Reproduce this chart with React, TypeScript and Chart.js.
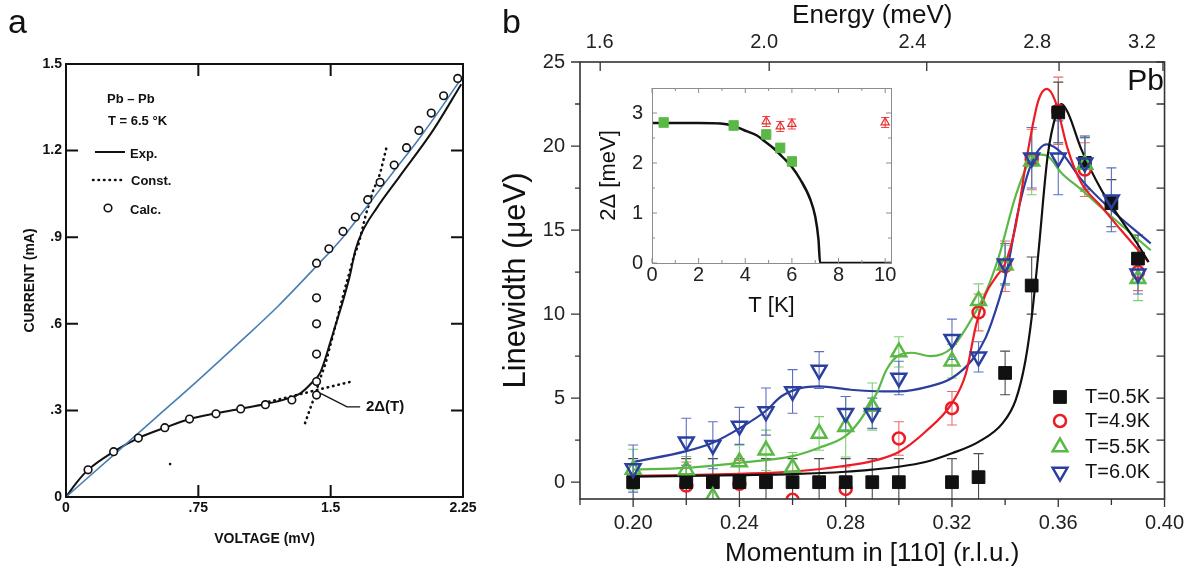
import React, { useEffect, useRef } from 'react';
import { Chart, registerables } from 'chart.js';

Chart.register(...registerables);

const FONT = '"Liberation Sans", Arial, Helvetica, sans-serif';
Chart.defaults.font.family = FONT;

// ================= Panel a data =================
const aXTicks = [0, 0.75, 1.5, 2.25];
const aXTickLabels = ['0', '.75', '1.5', '2.25'];
const aYTicks = [0, 0.3, 0.6, 0.9, 1.2, 1.5];
const aYTickLabels = ['0', '.3', '.6', '.9', '1.2', '1.5'];

const aExpV = [0, 0.06, 0.125, 0.27, 0.41, 0.56, 0.70, 0.85, 0.99, 1.13, 1.25, 1.33, 1.40, 1.44, 1.47, 1.49, 1.53, 1.57, 1.61, 1.64, 1.68, 1.76, 1.89, 2.08, 2.24];
const aExpI = [0, 0.05, 0.094, 0.157, 0.204, 0.24, 0.27, 0.29, 0.306, 0.322, 0.34, 0.36, 0.40, 0.43, 0.48, 0.52, 0.60, 0.68, 0.77, 0.855, 0.92, 1.0, 1.11, 1.27, 1.43];

const aConstFlatV = [1.15, 1.30, 1.45, 1.62];
const aConstFlatI = [0.33, 0.352, 0.375, 0.40];
const aConstSteepV = [1.355, 1.38, 1.41, 1.44, 1.47, 1.53, 1.58, 1.63, 1.66, 1.70, 1.74, 1.78, 1.82];
const aConstSteepI = [0.256, 0.30, 0.35, 0.41, 0.46, 0.60, 0.72, 0.83, 0.88, 0.98, 1.06, 1.12, 1.22];

const aCalcV = [0.125, 0.27, 0.41, 0.56, 0.70, 0.85, 0.99, 1.13, 1.28, 1.42, 1.42, 1.42, 1.42, 1.42, 1.42, 1.49, 1.57, 1.64, 1.71, 1.78, 1.86, 1.93, 2.0, 2.07, 2.14, 2.22];
const aCalcI = [0.094, 0.157, 0.204, 0.24, 0.27, 0.288, 0.305, 0.32, 0.336, 0.353, 0.40, 0.495, 0.60, 0.69, 0.81, 0.86, 0.92, 0.97, 1.03, 1.09, 1.15, 1.21, 1.27, 1.33, 1.39, 1.45];

const aBlueV = [0, 0.25, 0.5, 0.75, 1.0, 1.2, 1.42, 1.57, 1.71, 1.86, 2.0, 2.14, 2.24];
const aBlueI = [0, 0.135, 0.27, 0.405, 0.545, 0.66, 0.80, 0.90, 1.01, 1.13, 1.24, 1.36, 1.45];

const aLeaderV = [1.44, 1.593, 1.667];
const aLeaderI = [0.36, 0.312, 0.312];
const aGapLabel = '2\u0394(T)';
const aGapLabelAt = [1.70, 0.312];

const aSpeckV = [0.59];
const aSpeckI = [0.114];

// ================= Panel b data =================
const bXTicks = [0.18, 0.20, 0.22, 0.24, 0.26, 0.28, 0.30, 0.32, 0.34, 0.36, 0.38, 0.40];
const bYTicks = [0, 2.5, 5, 7.5, 10, 12.5, 15, 17.5, 20, 22.5, 25];
const bEnergyLabels = ['1.6', '2.0', '2.4', '2.8', '3.2'];
const bEnergyLabelQ = [0.1874, 0.2493, 0.3051, 0.3521, 0.3915];
const bEnergyTickQ = [0.1876, 0.2512, 0.3105, 0.3603, 0.3994];

const bSeriesNames = ['T=0.5K', 'T=4.9K', 'T=5.5K', 'T=6.0K'];

const bBlackQ = [0.20, 0.22, 0.23, 0.24, 0.25, 0.26, 0.27, 0.28, 0.29, 0.30, 0.32, 0.33, 0.34, 0.35, 0.36, 0.37, 0.38, 0.39];
const bBlackW = [0, 0, 0, 0, 0, 0, 0, 0, 0, 0, 0, 0.3, 6.5, 11.7, 22.0, 19.0, 16.6, 13.3];
const bBlackE = [1.4, 1.4, 1.4, 1.4, 1.4, 1.4, 1.4, 1.4, 1.4, 1.4, 1.4, 1.4, 1.3, 1.7, 1.8, 1.6, 1.4, 1.4];

const bRedQ = [0.22, 0.24, 0.26, 0.28, 0.30, 0.32, 0.33, 0.34, 0.35, 0.36, 0.37, 0.39];
const bRedW = [-0.2, -0.1, -1.05, -0.4, 2.6, 4.4, 10.1, 12.85, 19.2, 22.1, 18.6, 12.5];
const bRedE = [1.4, 1.4, 1.5, 1.3, 1.0, 1.0, 1.1, 1.5, 1.8, 2.0, 1.6, 1.1];

const bGreenQ = [0.20, 0.22, 0.23, 0.24, 0.25, 0.26, 0.27, 0.28, 0.29, 0.30, 0.32, 0.33, 0.34, 0.35, 0.37, 0.39];
const bGreenW = [0.76, 0.73, -0.87, 1.2, 1.9, 0.87, 2.9, 3.3, 4.5, 7.75, 7.2, 10.8, 12.9, 19.1, 18.9, 12.1];
const bGreenE = [1.2, 0.8, 1.0, 1.0, 1.2, 0.9, 1.0, 1.8, 1.4, 0.9, 1.0, 1.0, 1.2, 2.0, 1.6, 1.3];

const bBlueQ = [0.20, 0.22, 0.23, 0.24, 0.25, 0.26, 0.27, 0.28, 0.29, 0.30, 0.32, 0.33, 0.34, 0.35, 0.36, 0.37, 0.38, 0.39];
const bBlueW = [0.81, 2.4, 2.2, 3.35, 4.2, 5.4, 6.67, 4.1, 4.1, 6.2, 8.5, 7.46, 13.0, 19.3, 19.3, 19.0, 16.8, 12.4];
const bBlueE = [1.4, 1.4, 1.4, 1.1, 1.4, 1.3, 1.1, 1.0, 0.9, 1.0, 1.2, 0.9, 1.2, 1.8, 2.2, 1.5, 1.9, 1.2];

const bCurveBlackQ = [0.20, 0.22, 0.24, 0.26, 0.28, 0.29, 0.30, 0.31, 0.32, 0.33, 0.339, 0.344, 0.3476, 0.350, 0.3525, 0.356, 0.3594, 0.3612, 0.3636, 0.3687, 0.3762, 0.3811, 0.3897, 0.394];
const bCurveBlackW = [0.33, 0.37, 0.42, 0.48, 0.62, 0.75, 0.92, 1.2, 1.72, 2.4, 3.5, 4.9, 7.2, 9.8, 13.6, 19.4, 22.0, 22.5, 22.0, 19.8, 17.4, 16.2, 14.2, 13.1];
const bCurveRedQ = [0.20, 0.22, 0.24, 0.26, 0.28, 0.29, 0.30, 0.31, 0.32, 0.3253, 0.329, 0.3327, 0.337, 0.340, 0.3439, 0.3487, 0.3525, 0.3557, 0.3588, 0.3636, 0.3687, 0.3762, 0.3836, 0.394];
const bCurveRedW = [0.37, 0.42, 0.5, 0.63, 0.98, 1.25, 1.8, 3.0, 4.7, 6.5, 9.3, 11.2, 12.3, 13.0, 15.2, 19.8, 22.7, 23.4, 22.7, 19.8, 17.8, 16.4, 15.0, 13.1];
const bCurveGreenQ = [0.20, 0.22, 0.24, 0.26, 0.27, 0.28, 0.2855, 0.2917, 0.2954, 0.30, 0.305, 0.312, 0.32, 0.3277, 0.3327, 0.3376, 0.3439, 0.3489, 0.3525, 0.356, 0.3612, 0.3687, 0.3786, 0.3948];
const bCurveGreenW = [0.75, 0.85, 1.15, 1.55, 2.05, 2.75, 3.7, 5.3, 6.7, 7.55, 7.7, 7.5, 8.0, 9.8, 11.3, 13.4, 17.0, 19.0, 19.5, 19.4, 18.4, 17.4, 16.0, 13.8];
const bCurveBlueQ = [0.20, 0.22, 0.23, 0.24, 0.25, 0.2557, 0.263, 0.27, 0.2818, 0.294, 0.30, 0.3115, 0.32, 0.3277, 0.3327, 0.3376, 0.3407, 0.345, 0.350, 0.3557, 0.3612, 0.3687, 0.3786, 0.3948];
const bCurveBlueW = [1.2, 1.85, 2.35, 3.2, 4.25, 5.1, 5.6, 5.7, 5.5, 5.4, 5.4, 5.7, 6.2, 7.3, 8.6, 10.8, 12.6, 16.2, 19.0, 20.1, 19.6, 18.0, 16.4, 14.2];

// ================= Inset data =================
const iXTicks = [0, 2, 4, 6, 8, 10];
const iXMinor = [1, 3, 5, 7, 9];
const iYTicks = [0, 1, 2, 3];
const iYMinor = [0.5, 1.5, 2.5];
const iCurveT = [0, 1, 2, 2.93, 3.5, 3.93, 4.5, 4.79, 5.2, 5.64, 6.0, 6.36, 6.79, 7.0, 7.14, 7.21, 8, 9, 10.25];
const iCurveGap = [2.8, 2.8, 2.8, 2.79, 2.74, 2.66, 2.55, 2.45, 2.3, 2.1, 1.92, 1.67, 1.27, 0.93, 0.47, 0, 0, 0, 0];
const iGreenT = [0.5, 3.5, 4.9, 5.5, 6.0];
const iGreenGap = [2.81, 2.75, 2.57, 2.30, 2.03];
const iGreenE = [0.1, 0.1, 0.1, 0.1, 0.1];
const iRedT = [4.9, 5.5, 6.0, 10.0];
const iRedGap = [2.83, 2.73, 2.78, 2.81];
const iRedE = [0.1, 0.1, 0.1, 0.1];

// ================= helpers =================
const zip = (xs: number[], ys: number[]) => xs.map((x, i) => ({ x, y: ys[i] }));

const C_BLACK = '#111111';
const C_RED = '#ed1c24';
const C_GREEN = '#5ab946';
const C_BLUE = '#2b3f9e';

function drawMarker(ctx: CanvasRenderingContext2D, style: string, x: number, y: number, r: number, color: string, fill: boolean, lw: number) {
  ctx.save();
  ctx.beginPath();
  if (style === 'rect') {
    const s = r * Math.SQRT1_2;
    ctx.rect(x - s, y - s, 2 * s, 2 * s);
  } else if (style === 'circle') {
    ctx.arc(x, y, r, 0, Math.PI * 2);
  } else {
    const dir = style === 'triangle' ? 1 : -1;
    const sx = r * Math.sin((2 * Math.PI) / 3);
    ctx.moveTo(x, y - dir * r);
    ctx.lineTo(x + sx, y + dir * r * 0.5);
    ctx.lineTo(x - sx, y + dir * r * 0.5);
    ctx.closePath();
  }
  if (fill) {
    ctx.fillStyle = color;
    ctx.fill();
  }
  ctx.strokeStyle = color;
  ctx.lineWidth = lw;
  ctx.stroke();
  ctx.restore();
}

function drawErrorBars(chart: any, groups: { xs: number[]; ys: number[]; es: number[]; color: string; cap: number }[]) {
  const { ctx, chartArea: a, scales } = chart;
  const x = scales.x;
  const y = scales.y;
  ctx.save();
  ctx.beginPath();
  ctx.rect(a.left, a.top, a.right - a.left, a.bottom - a.top);
  ctx.clip();
  for (const g of groups) {
    ctx.strokeStyle = g.color;
    ctx.lineWidth = 1.1;
    ctx.beginPath();
    g.xs.forEach((q, i) => {
      const px = x.getPixelForValue(q);
      const y1 = y.getPixelForValue(g.ys[i] + g.es[i]);
      const y2 = y.getPixelForValue(g.ys[i] - g.es[i]);
      ctx.moveTo(px, y1);
      ctx.lineTo(px, y2);
      ctx.moveTo(px - g.cap, y1);
      ctx.lineTo(px + g.cap, y1);
      ctx.moveTo(px - g.cap, y2);
      ctx.lineTo(px + g.cap, y2);
    });
    ctx.stroke();
  }
  ctx.restore();
}

// ================= Panel a config =================
const frameA = {
  id: 'frameA',
  afterDraw(chart: any) {
    const { ctx, chartArea: a, scales } = chart;
    const x = scales.x;
    const y = scales.y;
    ctx.save();
    ctx.strokeStyle = '#111';
    ctx.lineWidth = 2;
    ctx.strokeRect(a.left, a.top, a.right - a.left, a.bottom - a.top);
    ctx.beginPath();
    aXTicks.slice(1, -1).forEach((v) => {
      const p = x.getPixelForValue(v);
      ctx.moveTo(p, a.top);
      ctx.lineTo(p, a.top + 12);
      ctx.moveTo(p, a.bottom);
      ctx.lineTo(p, a.bottom - 12);
    });
    aYTicks.slice(1, -1).forEach((v) => {
      const p = y.getPixelForValue(v);
      ctx.moveTo(a.left, p);
      ctx.lineTo(a.left + 12, p);
      ctx.moveTo(a.right, p);
      ctx.lineTo(a.right - 12, p);
    });
    ctx.stroke();

    // legend
    ctx.fillStyle = '#111';
    ctx.font = `bold 13px ${FONT}`;
    ctx.textBaseline = 'middle';
    ctx.textAlign = 'left';
    ctx.fillText('Pb \u2013 Pb', 107, 99);
    ctx.fillText('T = 6.5 \u00b0K', 108, 121);
    ctx.fillText('Exp.', 130, 154);
    ctx.fillText('Const.', 131, 181);
    ctx.fillText('Calc.', 130, 210);
    ctx.lineWidth = 2;
    ctx.beginPath();
    ctx.moveTo(95, 152);
    ctx.lineTo(125, 152);
    ctx.stroke();
    ctx.save();
    ctx.lineWidth = 2.6;
    ctx.lineCap = 'round';
    ctx.setLineDash([0.5, 5]);
    ctx.beginPath();
    ctx.moveTo(93, 180);
    ctx.lineTo(126, 180);
    ctx.stroke();
    ctx.restore();
    ctx.lineWidth = 1.6;
    ctx.beginPath();
    ctx.arc(108, 208, 3.8, 0, Math.PI * 2);
    ctx.stroke();

    // 2Δ(T) annotation
    ctx.font = `bold 15px ${FONT}`;
    ctx.fillText(aGapLabel, x.getPixelForValue(aGapLabelAt[0]), y.getPixelForValue(aGapLabelAt[1]));

    // panel letter
    ctx.font = `34px ${FONT}`;
    ctx.textBaseline = 'alphabetic';
    ctx.fillText('a', 8, 33);
    ctx.restore();
  },
};

const configA = () => ({
  type: 'line',
  data: {
    datasets: [
      { label: 'Calc.', data: zip(aCalcV, aCalcI), showLine: false, pointRadius: 3.8, pointBorderWidth: 1.6, pointBorderColor: '#111', pointBackgroundColor: '#fff', order: 1 },
      { label: 'Exp.', data: zip(aExpV, aExpI), borderColor: '#111', borderWidth: 2, pointRadius: 0, cubicInterpolationMode: 'monotone', order: 3 },
      { label: 'Const. a', data: zip(aConstFlatV, aConstFlatI), borderColor: '#111', borderWidth: 2.6, borderDash: [0.5, 5], borderCapStyle: 'round', pointRadius: 0, tension: 0, order: 4 },
      { label: 'Const. b', data: zip(aConstSteepV, aConstSteepI), borderColor: '#111', borderWidth: 2.6, borderDash: [0.5, 5], borderCapStyle: 'round', pointRadius: 0, tension: 0, order: 4 },
      { label: 'Blue', data: zip(aBlueV, aBlueI), borderColor: '#4a7db2', borderWidth: 1.6, pointRadius: 0, cubicInterpolationMode: 'monotone', order: 2 },
      { label: 'Leader', data: zip(aLeaderV, aLeaderI), borderColor: '#111', borderWidth: 1.3, pointRadius: 0, tension: 0, order: 5 },
      { label: 'Speck', data: zip(aSpeckV, aSpeckI), showLine: false, pointRadius: 1.3, pointBackgroundColor: '#111', pointBorderWidth: 0, order: 6 },
    ],
  },
  options: {
    animation: false,
    responsive: false,
    devicePixelRatio: 1,
    layout: { padding: { left: 22, right: 733, top: 64, bottom: 22 } },
    plugins: { legend: { display: false }, tooltip: { enabled: false } },
    scales: {
      x: {
        type: 'linear',
        min: 0,
        max: 2.25,
        afterBuildTicks: (s: any) => { s.ticks = aXTicks.map((v) => ({ value: v })); },
        afterFit: (s: any) => { s.height = 60; },
        grid: { display: false, drawTicks: false },
        border: { display: false },
        ticks: { padding: 3, autoSkip: false, maxRotation: 0, color: '#111', font: { size: 14, weight: 'bold' }, callback: (_v: any, i: number) => aXTickLabels[i] },
        title: { display: true, text: 'VOLTAGE (mV)', color: '#111', font: { size: 14, weight: 'bold' }, padding: { top: 0, bottom: 9 } },
      },
      y: {
        type: 'linear',
        min: 0,
        max: 1.5,
        afterBuildTicks: (s: any) => { s.ticks = aYTicks.map((v) => ({ value: v })); },
        afterFit: (s: any) => { s.width = 44; },
        grid: { display: false, drawTicks: false },
        border: { display: false },
        ticks: { padding: 4, autoSkip: false, color: '#111', font: { size: 14, weight: 'bold' }, callback: (_v: any, i: number) => aYTickLabels[i] },
        title: { display: true, text: 'CURRENT (mA)', color: '#111', font: { size: 14, weight: 'bold' }, padding: { top: 0, bottom: 0 } },
      },
    },
  },
  plugins: [frameA],
});

// ================= Panel b config =================
const bMarkerStyles = [
  { style: 'rect', r: 9, color: C_BLACK, fill: true, lw: 1 },
  { style: 'circle', r: 6, color: C_RED, fill: false, lw: 2.5 },
  { style: 'triangle', r: 8.5, color: C_GREEN, fill: false, lw: 2.5 },
  { style: 'triangleDown', r: 8.5, color: C_BLUE, fill: false, lw: 2.5 },
];

const frameB = {
  id: 'frameB',
  beforeDatasetsDraw(chart: any) {
    drawErrorBars(chart, [
      { xs: bRedQ, ys: bRedW, es: bRedE, color: '#f06a6a', cap: 5 },
      { xs: bBlackQ, ys: bBlackW, es: bBlackE, color: '#4a4a4a', cap: 5 },
      { xs: bGreenQ, ys: bGreenW, es: bGreenE, color: '#7fcf70', cap: 5 },
      { xs: bBlueQ, ys: bBlueW, es: bBlueE, color: '#5d6fc4', cap: 5 },
    ]);
  },
  afterDraw(chart: any) {
    const { ctx, chartArea: a, scales } = chart;
    const x = scales.x;
    const y = scales.y;
    ctx.save();
    ctx.strokeStyle = '#333';
    ctx.lineWidth = 1.6;
    ctx.strokeRect(a.left, a.top, a.right - a.left, a.bottom - a.top);
    ctx.lineWidth = 1.3;
    ctx.beginPath();
    bXTicks.forEach((v) => {
      const p = x.getPixelForValue(v);
      const major = Math.round(v * 100) % 4 === 0;
      ctx.moveTo(p, a.bottom);
      ctx.lineTo(p, a.bottom + (major ? 8 : 6));
    });
    bYTicks.forEach((v) => {
      const p = y.getPixelForValue(v);
      const major = v % 5 === 0;
      ctx.moveTo(a.left, p);
      ctx.lineTo(a.left - (major ? 9 : 5), p);
      ctx.moveTo(a.right, p);
      ctx.lineTo(a.right - 8, p);
    });
    bEnergyTickQ.forEach((q) => {
      const p = x.getPixelForValue(q);
      ctx.moveTo(p, a.top);
      ctx.lineTo(p, a.top + 9);
    });
    ctx.stroke();

    // legend
    const rows = [397, 421, 447, 472];
    ctx.font = `20px ${FONT}`;
    ctx.fillStyle = '#111';
    ctx.textBaseline = 'middle';
    ctx.textAlign = 'left';
    bSeriesNames.forEach((name, i) => {
      const m = bMarkerStyles[i];
      drawMarker(ctx, m.style, 1060, rows[i], m.r, m.color, m.fill, m.lw);
      ctx.fillStyle = '#111';
      ctx.fillText(name, 1085, rows[i]);
    });

    // element label
    ctx.font = `30px ${FONT}`;
    ctx.textAlign = 'right';
    ctx.textBaseline = 'alphabetic';
    ctx.fillText('Pb', 1164, 90);

    // panel letter
    ctx.textAlign = 'left';
    ctx.font = `34px ${FONT}`;
    ctx.fillText('b', 502, 33);
    ctx.restore();
  },
};

const markerDataset = (label: string, xs: number[], ys: number[], i: number, order: number) => {
  const m = bMarkerStyles[i];
  return {
    label,
    data: zip(xs, ys),
    showLine: false,
    pointStyle: m.style === 'triangleDown' ? 'triangle' : m.style,
    pointRotation: m.style === 'triangleDown' ? 180 : 0,
    pointRadius: m.r,
    pointBorderWidth: m.lw,
    pointBorderColor: m.color,
    pointBackgroundColor: m.fill ? m.color : 'rgba(0,0,0,0)',
    order,
  };
};

const curveDataset = (label: string, xs: number[], ys: number[], color: string, order: number) => ({
  label,
  data: zip(xs, ys),
  borderColor: color,
  borderWidth: 2.2,
  pointRadius: 0,
  cubicInterpolationMode: 'monotone',
  order,
});

const configB = () => ({
  type: 'line',
  data: {
    datasets: [
      markerDataset(bSeriesNames[3], bBlueQ, bBlueW, 3, 1),
      markerDataset(bSeriesNames[2], bGreenQ, bGreenW, 2, 2),
      markerDataset(bSeriesNames[0], bBlackQ, bBlackW, 0, 3),
      markerDataset(bSeriesNames[1], bRedQ, bRedW, 1, 4),
      curveDataset('fit 0.5K', bCurveBlackQ, bCurveBlackW, C_BLACK, 10),
      curveDataset('fit 4.9K', bCurveRedQ, bCurveRedW, C_RED, 11),
      curveDataset('fit 5.5K', bCurveGreenQ, bCurveGreenW, C_GREEN, 12),
      curveDataset('fit 6.0K', bCurveBlueQ, bCurveBlueW, C_BLUE, 13),
    ],
  },
  options: {
    animation: false,
    responsive: false,
    devicePixelRatio: 1,
    layout: { padding: { left: 498, right: 25, top: 0, bottom: 0 } },
    plugins: { legend: { display: false }, tooltip: { enabled: false } },
    scales: {
      x: {
        type: 'linear',
        position: 'bottom',
        min: 0.18,
        max: 0.40,
        afterBuildTicks: (s: any) => { s.ticks = bXTicks.map((v) => ({ value: v })); },
        afterFit: (s: any) => { s.height = 80; },
        grid: { display: false, drawTicks: false },
        border: { display: false },
        ticks: {
          padding: 12, autoSkip: false, maxRotation: 0, color: '#222', font: { size: 20 },
          callback: (_v: any, i: number) => (Math.round(bXTicks[i] * 100) % 4 === 0 ? bXTicks[i].toFixed(2) : ''),
        },
        title: { display: true, text: 'Momentum in [110] (r.l.u.)', color: '#111', font: { size: 26 }, padding: { top: 0, bottom: 10 } },
      },
      x2: {
        type: 'linear',
        position: 'top',
        min: 0.18,
        max: 0.40,
        afterBuildTicks: (s: any) => { s.ticks = bEnergyLabelQ.map((v) => ({ value: v })); },
        afterFit: (s: any) => { s.height = 62; },
        grid: { display: false, drawTicks: false },
        border: { display: false },
        ticks: { padding: 8, autoSkip: false, maxRotation: 0, color: '#222', font: { size: 20 }, callback: (_v: any, i: number) => bEnergyLabels[i] },
        title: { display: true, text: 'Energy (meV)', color: '#111', font: { size: 26 }, padding: { top: 0, bottom: 0 } },
      },
      y: {
        type: 'linear',
        min: -1,
        max: 25,
        afterBuildTicks: (s: any) => { s.ticks = bYTicks.map((v) => ({ value: v })); },
        afterFit: (s: any) => { s.width = 82; },
        grid: { display: false, drawTicks: false },
        border: { display: false },
        ticks: { padding: 15, autoSkip: false, color: '#222', font: { size: 20 }, callback: (_v: any, i: number) => (bYTicks[i] % 5 === 0 ? String(bYTicks[i]) : '') },
        title: { display: true, text: 'Linewidth (\u03bceV)', color: '#111', font: { size: 31 }, padding: { top: 0, bottom: 0 } },
      },
    },
  },
  plugins: [frameB],
});

// ================= Inset config =================
const frameI = {
  id: 'frameI',
  beforeDatasetsDraw(chart: any) {
    drawErrorBars(chart, [
      { xs: iGreenT, ys: iGreenGap, es: iGreenE, color: '#9ad98f', cap: 5 },
      { xs: iRedT, ys: iRedGap, es: iRedE, color: '#ee4444', cap: 4 },
    ]);
  },
  afterDraw(chart: any) {
    const { ctx, chartArea: a, scales } = chart;
    const x = scales.x;
    const y = scales.y;
    ctx.save();
    ctx.strokeStyle = '#8c8c8c';
    ctx.lineWidth = 1;
    ctx.strokeRect(a.left + 0.5, a.top + 0.5, a.right - a.left, a.bottom - a.top);
    ctx.beginPath();
    const xt = (v: number, L: number) => {
      const p = x.getPixelForValue(v);
      ctx.moveTo(p, a.top);
      ctx.lineTo(p, a.top + L);
      ctx.moveTo(p, a.bottom);
      ctx.lineTo(p, a.bottom - L);
    };
    const yt = (v: number, L: number) => {
      const p = y.getPixelForValue(v);
      ctx.moveTo(a.left, p);
      ctx.lineTo(a.left + L, p);
      ctx.moveTo(a.right, p);
      ctx.lineTo(a.right - L, p);
    };
    iXTicks.forEach((v) => xt(v, 5));
    iXMinor.forEach((v) => xt(v, 3));
    iYTicks.forEach((v) => yt(v, 5));
    iYMinor.forEach((v) => yt(v, 3));
    ctx.stroke();
    ctx.restore();
  },
};

const configInset = () => ({
  type: 'line',
  data: {
    datasets: [
      { label: 'green', data: zip(iGreenT, iGreenGap), showLine: false, pointStyle: 'rect', pointRadius: 6.5, pointBorderWidth: 1, pointBorderColor: C_GREEN, pointBackgroundColor: C_GREEN, order: 1 },
      { label: 'red', data: zip(iRedT, iRedGap), showLine: false, pointStyle: 'triangle', pointRadius: 4.8, pointBorderWidth: 1.2, pointBorderColor: '#e8302f', pointBackgroundColor: 'rgba(0,0,0,0)', order: 2 },
      { label: 'BCS', data: zip(iCurveT, iCurveGap), borderColor: '#111', borderWidth: 2.5, pointRadius: 0, cubicInterpolationMode: 'monotone', order: 3 },
    ],
  },
  options: {
    animation: false,
    responsive: false,
    devicePixelRatio: 1,
    layout: { padding: { left: 596, right: 305, top: 88, bottom: 260 } },
    plugins: { legend: { display: false }, tooltip: { enabled: false } },
    scales: {
      x: {
        type: 'linear',
        min: 0,
        max: 10.25,
        afterBuildTicks: (s: any) => { s.ticks = iXTicks.map((v) => ({ value: v })); },
        afterFit: (s: any) => { s.height = 56; },
        grid: { display: false, drawTicks: false },
        border: { display: false },
        ticks: { padding: 0, autoSkip: false, maxRotation: 0, color: '#222', font: { size: 20 }, callback: (_v: any, i: number) => String(iXTicks[i]) },
        title: { display: true, text: 'T [K]', color: '#111', font: { size: 22 }, padding: { top: 0, bottom: 0 } },
      },
      y: {
        type: 'linear',
        min: 0,
        max: 3.5,
        afterBuildTicks: (s: any) => { s.ticks = iYTicks.map((v) => ({ value: v })); },
        afterFit: (s: any) => { s.width = 56; },
        grid: { display: false, drawTicks: false },
        border: { display: false },
        ticks: { padding: 9, autoSkip: false, color: '#222', font: { size: 20 }, callback: (_v: any, i: number) => String(iYTicks[i]) },
        title: { display: true, text: '2\u0394 [meV]', color: '#111', font: { size: 22 }, padding: { top: 0, bottom: 0 } },
      },
    },
  },
  plugins: [frameI],
});

function ChartCanvas({ make }: { make: () => any }) {
  const ref = useRef<HTMLCanvasElement | null>(null);
  useEffect(() => {
    if (!ref.current) return;
    const chart = new Chart(ref.current, make());
    return () => chart.destroy();
  }, [make]);
  return (
    <canvas
      ref={ref}
      width={1196}
      height={579}
      style={{ position: 'absolute', left: 0, top: 0, width: 1196, height: 579 }}
    />
  );
}

export default function App() {
  return (
    <div style={{ position: 'absolute', left: 0, top: 0, width: 1196, height: 579, background: '#fff', overflow: 'hidden' }}>
      <ChartCanvas make={configA} />
      <ChartCanvas make={configB} />
      <ChartCanvas make={configInset} />
    </div>
  );
}
